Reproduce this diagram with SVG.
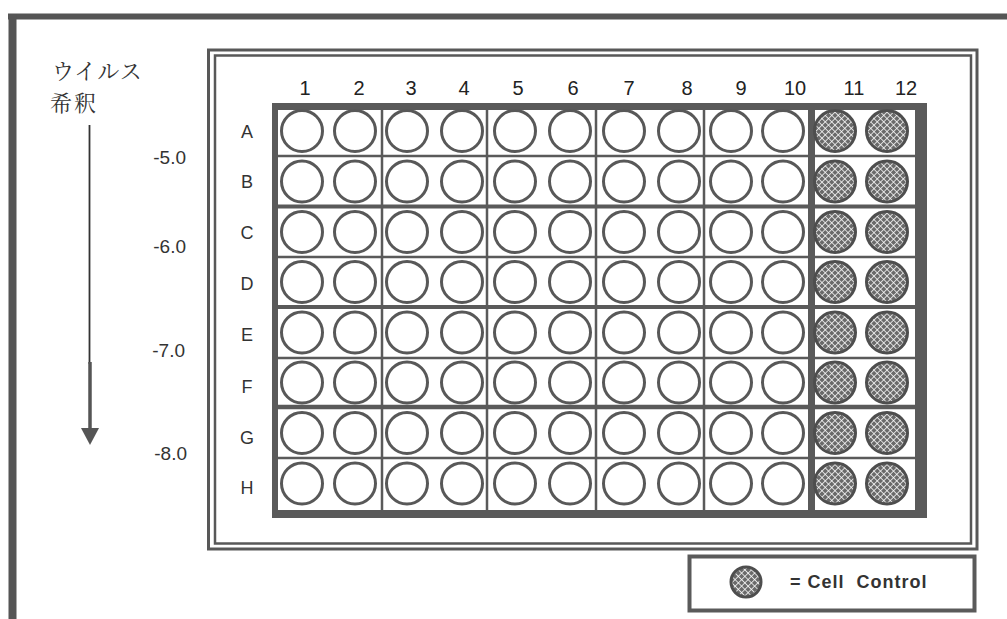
<svg xmlns="http://www.w3.org/2000/svg" width="1007" height="619" viewBox="0 0 1007 619">
<style>
.frame{fill:none;stroke:#585858}
.gl{stroke:#5a5a5a}
.well{fill:#fff;stroke:#585858;stroke-width:3}
.cc{fill:url(#hatch);stroke:#4e4e4e;stroke-width:3}
.num{font-family:"Liberation Sans",Arial,sans-serif;font-size:20px;fill:#222;text-anchor:middle}
.row{font-family:"Liberation Sans",Arial,sans-serif;font-size:18px;fill:#333;text-anchor:middle}
.dil{font-family:"Liberation Sans",Arial,sans-serif;font-size:19px;fill:#333;text-anchor:end}
.jp{font-family:"Noto Serif CJK JP","Liberation Serif","Noto Sans CJK JP",serif;font-size:22px;fill:#333}
.leg{font-family:"Liberation Sans",Arial,sans-serif;font-size:18px;font-weight:bold;fill:#333;letter-spacing:1px;white-space:pre}
</style>
<defs>
<pattern id="hatch" width="4.6" height="4.6" patternUnits="userSpaceOnUse" patternTransform="rotate(45)">
<rect width="4.6" height="4.6" fill="#6a6a6a"/>
<line x1="0" y1="0" x2="4.6" y2="0" stroke="#fff" stroke-width="1.5"/>
<line x1="0" y1="0" x2="0" y2="4.6" stroke="#fff" stroke-width="1.5"/>
</pattern>
<circle id="w" r="20.5" class="well"/>
<circle id="c" r="20.5" class="cc"/>
</defs>
<rect width="1007" height="619" fill="#fff"/>

<g id="outer-frame">
<line x1="8" y1="16.5" x2="1007" y2="16.5" stroke="#555" stroke-width="6"/>
<line x1="12.5" y1="14" x2="12.5" y2="619" stroke="#555" stroke-width="8"/>
</g>

<g id="dilution-label">
<text class="jp" x="52" y="79" letter-spacing="1">ウイルス</text>
<text class="jp" x="50" y="111" letter-spacing="2">希釈</text>
</g>

<g id="connectors">
<line x1="89.5" y1="125" x2="89.5" y2="364" stroke="#333" stroke-width="1.8"/>
<line x1="90" y1="362" x2="90" y2="432" stroke="#555" stroke-width="3.5"/>
<polygon points="81,428 99,428 90,445" fill="#555"/>
</g>

<g id="dilutions">
<text class="dil" x="186" y="164">-5.0</text>
<text class="dil" x="186" y="253">-6.0</text>
<text class="dil" x="185" y="357">-7.0</text>
<text class="dil" x="187" y="460">-8.0</text>
</g>

<g id="plate-frame">
<rect class="frame" x="208.5" y="50" width="768.5" height="499" stroke-width="3"/>
<rect class="frame" x="215" y="55.5" width="756" height="488" stroke-width="2.5"/>
</g>

<g id="column-numbers">
<text class="num" x="305" y="95">1</text>
<text class="num" x="359" y="95">2</text>
<text class="num" x="411" y="95">3</text>
<text class="num" x="464" y="95">4</text>
<text class="num" x="518" y="95">5</text>
<text class="num" x="573" y="95">6</text>
<text class="num" x="629" y="95">7</text>
<text class="num" x="687" y="95">8</text>
<text class="num" x="741" y="95">9</text>
<text class="num" x="795" y="95">10</text>
<text class="num" x="854" y="95">11</text>
<text class="num" x="906" y="95">12</text>
</g>

<g id="row-letters">
<text class="row" x="247" y="138">A</text>
<text class="row" x="247" y="188">B</text>
<text class="row" x="247" y="239">C</text>
<text class="row" x="247" y="290">D</text>
<text class="row" x="247" y="341">E</text>
<text class="row" x="247" y="393">F</text>
<text class="row" x="247" y="444">G</text>
<text class="row" x="247" y="494">H</text>
</g>

<g id="grid">
<line class="gl" x1="278" y1="156" x2="915" y2="156" stroke-width="2.5"/>
<line class="gl" x1="278" y1="206.5" x2="915" y2="206.5" stroke-width="4"/>
<line class="gl" x1="278" y1="257" x2="915" y2="257" stroke-width="2.5"/>
<line class="gl" x1="278" y1="307" x2="915" y2="307" stroke-width="4"/>
<line class="gl" x1="278" y1="358" x2="915" y2="358" stroke-width="2.5"/>
<line class="gl" x1="278" y1="407" x2="915" y2="407" stroke-width="4.5"/>
<line class="gl" x1="278" y1="458" x2="915" y2="458" stroke-width="2.5"/>
<line class="gl" x1="382" y1="104" x2="382" y2="512" stroke-width="2.5"/>
<line class="gl" x1="487" y1="104" x2="487" y2="512" stroke-width="2.5"/>
<line class="gl" x1="596" y1="104" x2="596" y2="512" stroke-width="2.5"/>
<line class="gl" x1="704" y1="104" x2="704" y2="512" stroke-width="2.5"/>
<line class="gl" x1="811.5" y1="104" x2="811.5" y2="512" stroke-width="7"/>
<path d="M272 103 H927 V518 H272 Z M278 110 V510 H915 V110 Z" fill="#5a5a5a" fill-rule="evenodd"/>
</g>

<g id="wells">
<g id="row-A" transform="translate(0,131)"><use href="#w" x="302"/><use href="#w" x="355"/><use href="#w" x="407"/><use href="#w" x="462"/><use href="#w" x="515"/><use href="#w" x="570"/><use href="#w" x="624"/><use href="#w" x="679"/><use href="#w" x="731"/><use href="#w" x="783"/><use href="#c" x="835"/><use href="#c" x="887"/></g>
<g id="row-B" transform="translate(0,181.5)"><use href="#w" x="302"/><use href="#w" x="355"/><use href="#w" x="407"/><use href="#w" x="462"/><use href="#w" x="515"/><use href="#w" x="570"/><use href="#w" x="624"/><use href="#w" x="679"/><use href="#w" x="731"/><use href="#w" x="783"/><use href="#c" x="835"/><use href="#c" x="887"/></g>
<g id="row-C" transform="translate(0,232)"><use href="#w" x="302"/><use href="#w" x="355"/><use href="#w" x="407"/><use href="#w" x="462"/><use href="#w" x="515"/><use href="#w" x="570"/><use href="#w" x="624"/><use href="#w" x="679"/><use href="#w" x="731"/><use href="#w" x="783"/><use href="#c" x="835"/><use href="#c" x="887"/></g>
<g id="row-D" transform="translate(0,282)"><use href="#w" x="302"/><use href="#w" x="355"/><use href="#w" x="407"/><use href="#w" x="462"/><use href="#w" x="515"/><use href="#w" x="570"/><use href="#w" x="624"/><use href="#w" x="679"/><use href="#w" x="731"/><use href="#w" x="783"/><use href="#c" x="835"/><use href="#c" x="887"/></g>
<g id="row-E" transform="translate(0,332.5)"><use href="#w" x="302"/><use href="#w" x="355"/><use href="#w" x="407"/><use href="#w" x="462"/><use href="#w" x="515"/><use href="#w" x="570"/><use href="#w" x="624"/><use href="#w" x="679"/><use href="#w" x="731"/><use href="#w" x="783"/><use href="#c" x="835"/><use href="#c" x="887"/></g>
<g id="row-F" transform="translate(0,382.5)"><use href="#w" x="302"/><use href="#w" x="355"/><use href="#w" x="407"/><use href="#w" x="462"/><use href="#w" x="515"/><use href="#w" x="570"/><use href="#w" x="624"/><use href="#w" x="679"/><use href="#w" x="731"/><use href="#w" x="783"/><use href="#c" x="835"/><use href="#c" x="887"/></g>
<g id="row-G" transform="translate(0,433)"><use href="#w" x="302"/><use href="#w" x="355"/><use href="#w" x="407"/><use href="#w" x="462"/><use href="#w" x="515"/><use href="#w" x="570"/><use href="#w" x="624"/><use href="#w" x="679"/><use href="#w" x="731"/><use href="#w" x="783"/><use href="#c" x="835"/><use href="#c" x="887"/></g>
<g id="row-H" transform="translate(0,483.5)"><use href="#w" x="302"/><use href="#w" x="355"/><use href="#w" x="407"/><use href="#w" x="462"/><use href="#w" x="515"/><use href="#w" x="570"/><use href="#w" x="624"/><use href="#w" x="679"/><use href="#w" x="731"/><use href="#w" x="783"/><use href="#c" x="835"/><use href="#c" x="887"/></g>
</g>

<g id="legend">
<rect x="689.5" y="556.5" width="285" height="54" fill="#fff" stroke="#5a5a5a" stroke-width="4"/>
<circle cx="746" cy="582" r="15" class="cc"/>
<text class="leg" x="790" y="588" xml:space="preserve">= Cell  Control</text>
</g>
</svg>
